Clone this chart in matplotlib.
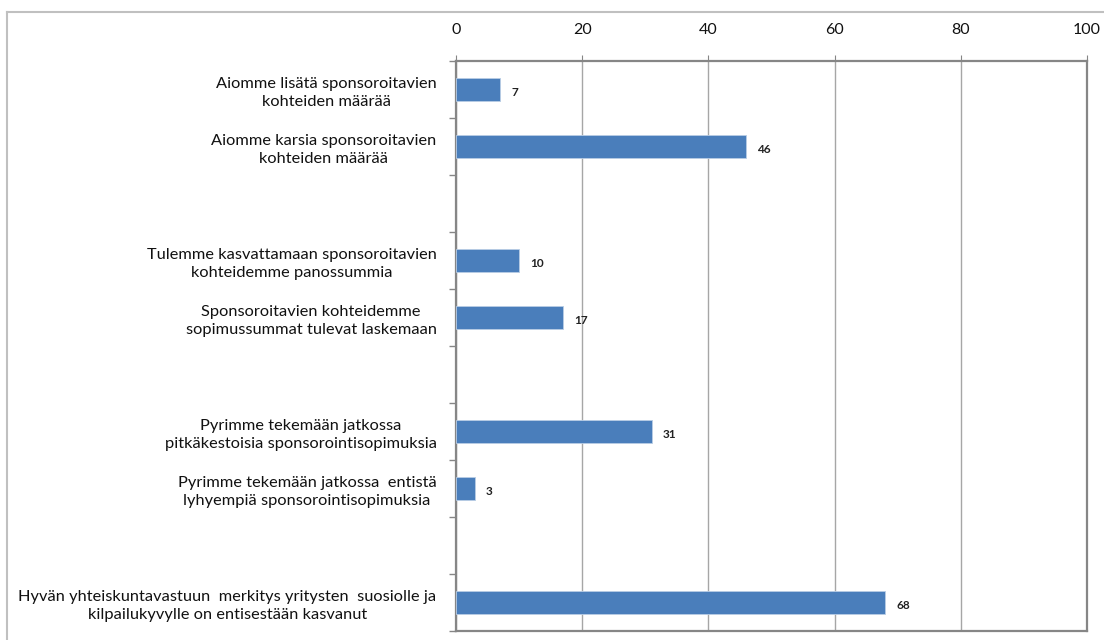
import numpy as np
import matplotlib.pyplot as plt
from matplotlib.lines import Line2D

plt.rcParams['font.family'] = ['Lato', 'DejaVu Sans']

# statements grouped by theme, one value per statement
labels = [
    'Aiomme lisätä sponsoroitavien\nkohteiden määrää',
    'Aiomme karsia sponsoroitavien\nkohteiden määrää',
    'Tulemme kasvattamaan sponsoroitavien\nkohteidemme panossummia',
    'Sponsoroitavien kohteidemme\nsopimussummat tulevat laskemaan',
    'Pyrimme tekemään jatkossa\npitkäkestoisia sponsorointisopimuksia',
    'Pyrimme tekemään jatkossa  entistä\nlyhyempiä sponsorointisopimuksia',
    'Hyvän yhteiskuntavastuun  merkitys yritysten  suosiolle ja\nkilpailukyvylle on entisestään kasvanut',
]
values = [7, 46, 10, 17, 31, 3, 68]
group_sizes = [2, 2, 2, 1]
x_ticks = [0, 20, 40, 60, 80, 100]

# one empty row between groups
positions = []
row = 0
for size in group_sizes:
    for i in range(size):
        positions.append(row)
        row += 1
    row += 1
n_rows = row - 1

bar_color = '#4a7ebb'
spine_color = '#868686'
grid_color = '#a6a6a6'

fig = plt.figure(figsize=(11.04, 6.4), dpi=100)
ax = fig.add_axes([456 / 1104, 1 - 631 / 640, (1087 - 456) / 1104, (631 - 61) / 640])

ax.barh(positions, values, height=0.39, color=bar_color, edgecolor='#b9cde5',
        linewidth=0.6, zorder=3)
for p, v in zip(positions, values):
    ax.annotate(str(v), (v, p), xytext=(8, -2), textcoords='offset points',
                ha='left', va='center', fontsize=8.5, fontweight='bold', color='#222222')

ax.set_xlim(0, 100)
ax.set_ylim(n_rows - 0.5, -0.5)
ax.xaxis.tick_top()
ax.set_xticks(x_ticks)
ax.set_xticklabels([str(t) for t in x_ticks], fontsize=11.5, color='#111111')
ax.tick_params(axis='x', length=4, color=spine_color, pad=13)
ax.grid(axis='x', color=grid_color, linewidth=1.0, zorder=0)

ax.set_yticks(positions)
ax.set_yticklabels(labels, fontsize=11.8, color='#111111')
for t in ax.get_yticklabels():
    t.set_multialignment('center')
    t.set_linespacing(1.4)
ax.tick_params(axis='y', which='major', length=0, pad=14)
ax.set_yticks(np.arange(-0.5, n_rows, 1.0), minor=True)
ax.tick_params(axis='y', which='minor', length=5, color=spine_color, width=1)

for s in ax.spines.values():
    s.set_color(spine_color)
    s.set_linewidth(1.6)

# outer chart frame
fig.add_artist(Line2D([7 / 1104, 7 / 1104], [0, 1 - 12 / 640], transform=fig.transFigure,
                      color='#c0c0c0', linewidth=1.5))
fig.add_artist(Line2D([7 / 1104, 1], [1 - 12 / 640, 1 - 12 / 640], transform=fig.transFigure,
                      color='#c0c0c0', linewidth=1.5))

fig.savefig('out.png', dpi=100)
